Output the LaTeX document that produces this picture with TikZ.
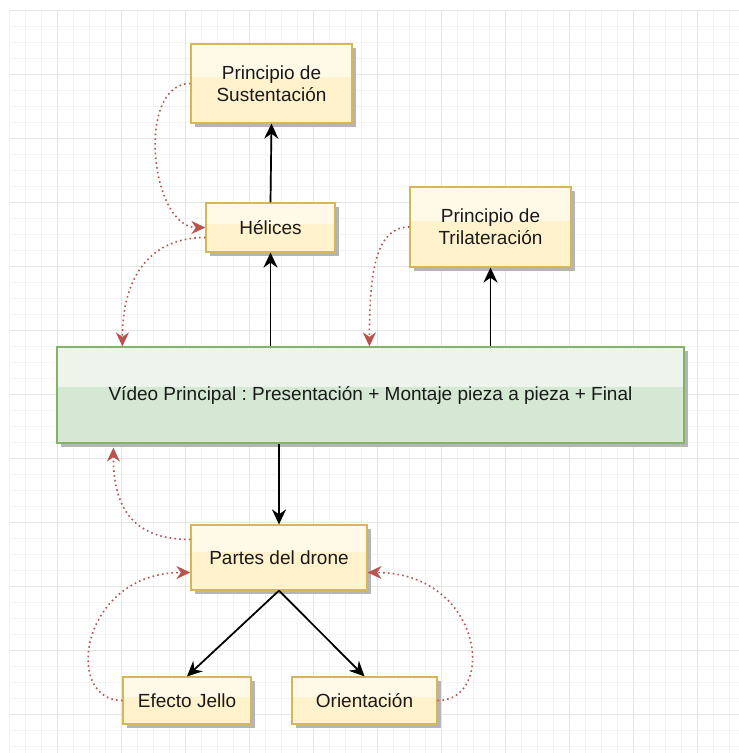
\documentclass[tikz,border=0pt]{standalone}
\usepackage{fontspec}
\setmainfont{Liberation Sans}
\usepackage{xcolor}
\usepackage{tikz}
\usetikzlibrary{arrows.meta,calc,shadows}
\frenchspacing
\definecolor{dryellow}{HTML}{FFF2CC}
\definecolor{dryellowline}{HTML}{D6B656}
\definecolor{drgreen}{HTML}{D5E8D4}
\definecolor{drgreenline}{HTML}{82B366}
\definecolor{drred}{HTML}{B85450}
\definecolor{drgridminor}{HTML}{F3F3F3}
\definecolor{drgridmajor}{HTML}{E6E6E6}
\definecolor{drtext}{HTML}{1A1A1A}
\definecolor{drshadow}{HTML}{B5B5B5}
\tikzset{
  glass/.style={path picture={\fill[white,opacity=.55] (path picture bounding box.north west)
    rectangle ($(path picture bounding box.east)!.16!(path picture bounding box.north east)$);}},
  dstep/.style={draw=dryellowline,line width=1.2pt,fill=dryellow,glass,inner sep=2pt,align=center,
    text=drtext,drop shadow={shadow xshift=3.5pt,shadow yshift=-3.5pt,fill=drshadow,opacity=1}},
  dmain/.style={dstep,draw=drgreenline,fill=drgreen},
  flow/.style={-{Stealth[length=15pt,width=14pt,inset=5pt]},line width=1.7pt,draw=black},
  flowshadow/.style={draw=black!22,line width=1.7pt,-{Stealth[length=15pt,width=14pt,inset=5pt]},
    xshift=2.5pt,yshift=-2.5pt},
  dlink/.style={-{Stealth[length=14pt,width=13pt,inset=4.5pt,fill=drred]},draw=drred,line width=1.6pt,
    dash pattern=on 1.6pt off 3.2pt},
  gridminor/.style={draw=drgridminor,line width=.8pt},
  gridmajor/.style={draw=drgridmajor,line width=1pt}
}
\begin{document}
\begin{tikzpicture}[x=1pt,y=-1pt,font=\fontsize{19}{22}\selectfont]
    \useasboundingbox[fill=white] (0,0) rectangle (739,753);
    \foreach \gx in {9,25,...,739} \draw[gridminor] (\gx,10) -- (\gx,753);
    \foreach \gy in {10,26,...,753} \draw[gridminor] (9,\gy) -- (739,\gy);
    \foreach \gx in {57,121,...,739} \draw[gridmajor] (\gx,10) -- (\gx,753);
    \foreach \gy in {10,74,...,753} \draw[gridmajor] (9,\gy) -- (739,\gy);
    \node[dstep,minimum width=161pt,minimum height=79pt] (sust) at (271.5,83.5) {Principio de\\Sustentación};
    \node[dstep,minimum width=129pt,minimum height=49pt] (helices) at (270.5,227.5) {Hélices};
    \node[dstep,minimum width=161pt,minimum height=80pt] (trilat) at (490.5,227) {Principio de\\Trilateración};
    \node[dmain,minimum width=627pt,minimum height=96pt] (video) at (370.5,395) {Vídeo Principal : Presentación + Montaje pieza a pieza + Final};
    \node[dstep,minimum width=176pt,minimum height=65pt] (partes) at (279,557.5) {Partes del drone};
    \node[dstep,minimum width=128pt,minimum height=47pt] (jello) at (187,700.5) {Efecto Jello};
    \node[dstep,minimum width=145pt,minimum height=47pt] (orient) at (364.5,700.5) {Orientación};
    \draw[flowshadow] (helices.north) -- (sust.south);
    \draw[flowshadow] (helices.south |- video.north) -- (helices.south);
    \draw[flowshadow] (trilat.south |- video.north) -- (trilat.south);
    \draw[flowshadow] (video.south -| partes.north) -- (partes.north);
    \draw[flowshadow] (partes.south) -- (jello.north);
    \draw[flowshadow] (partes.south) -- (orient.north);
    \draw[flow] (helices.north) -- (sust.south);
    \draw[flow] (helices.south |- video.north) -- (helices.south);
    \draw[flow] (trilat.south |- video.north) -- (trilat.south);
    \draw[flow] (video.south -| partes.north) -- (partes.north);
    \draw[flow] (partes.south) -- (jello.north);
    \draw[flow] (partes.south) -- (orient.north);
    \draw[dlink] (sust.west) .. controls +(-55,0) and +(-55,0) .. (helices.west);
    \draw[dlink] ($(helices.west)+(0,10)$) .. controls +(-55,0) and +(0,-70) .. ($(video.north west)+(66,0)$);
    \draw[dlink] (trilat.west) .. controls +(-32,0) and +(0,-80) .. ($(video.north west)+(313,0)$);
    \draw[dlink] ($(partes.west)+(0,-18)$) .. controls +(-62,0) and +(0,55) .. ($(video.south west)+(57,4)$);
    \draw[dlink] (jello.west) .. controls +(-60,0) and +(-110,0) .. ($(partes.west)+(0,15)$);
    \draw[dlink] (orient.east) .. controls +(60,0) and +(115,0) .. ($(partes.east)+(0,15)$);
  \end{tikzpicture}
\end{document}
